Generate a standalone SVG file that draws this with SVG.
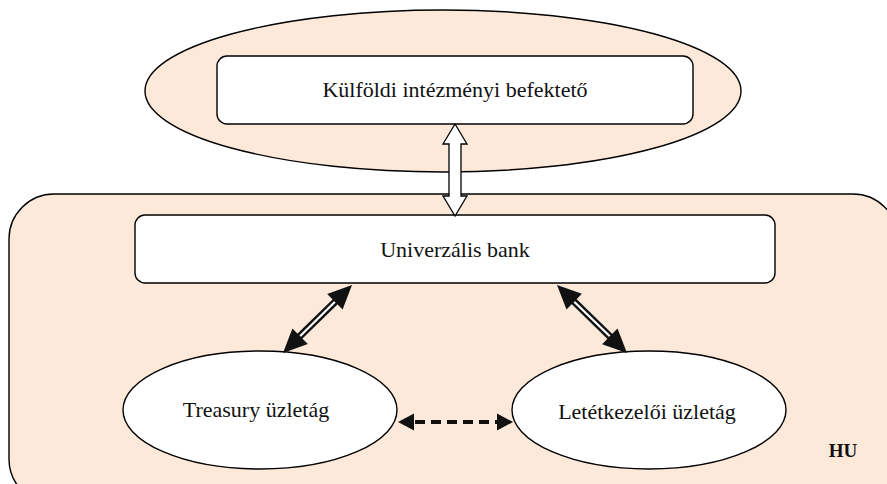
<svg xmlns="http://www.w3.org/2000/svg" width="887" height="484" viewBox="0 0 887 484">
<style>
.region{fill:#FDE9D9;stroke:#000;stroke-width:1.4}
.box{fill:#fff;stroke:#000;stroke-width:1.4}
.lbl{font-family:"Liberation Serif","Times New Roman",serif;font-size:22px;fill:#111;text-anchor:middle}
.hu{font-family:"Liberation Serif","Times New Roman",serif;font-size:19px;font-weight:bold;fill:#111;text-anchor:middle}
.head{fill:#111;stroke:none}
.dbl-out{stroke:#111;stroke-width:7;fill:none}
.dbl-in{stroke:#fff;stroke-width:2.2;fill:none}
.dash{stroke:#111;stroke-width:4;stroke-dasharray:10 6;fill:none}
.hollow{fill:#fff;stroke:#000;stroke-width:1.3;stroke-linejoin:miter}
</style>
<g id="hu-region">
<rect class="region" x="9" y="194" width="889" height="310" rx="45" ry="45"/>
<text class="hu" x="843" y="457">HU</text>
</g>
<g id="foreign-region">
<ellipse class="region" cx="443" cy="91" rx="298" ry="81"/>
</g>
<g id="kulfoldi">
<rect class="box" x="217" y="56" width="476" height="68" rx="10" ry="10"/>
<text class="lbl" x="455" y="97">Külföldi intézményi befektető</text>
</g>
<g id="bank">
<rect class="box" x="135" y="215" width="640" height="68" rx="10" ry="10"/>
<text class="lbl" x="455" y="257">Univerzális bank</text>
</g>
<g id="treasury">
<ellipse class="box" cx="260" cy="410" rx="137" ry="59"/>
<text class="lbl" x="256" y="417">Treasury üzletág</text>
</g>
<g id="letetkezeloi">
<ellipse class="box" cx="649" cy="410" rx="137" ry="59"/>
<text class="lbl" x="647" y="419">Letétkezelői üzletág</text>
</g>
<g id="connectors">
<polygon class="hollow" points="455,124 467,144 461,144 461,196 467,196 455,216 443,196 449,196 449,144 443,144"/>
<line class="dbl-out" x1="298" y1="338" x2="337" y2="300"/>
<line class="dbl-in" x1="300" y1="336.2" x2="335" y2="301.8"/>
<polygon class="head" points="352,285 342.6,309.6 327.2,294"/>
<polygon class="head" points="283,353 307.8,344 292.4,328.4"/>
<line class="dbl-out" x1="572" y1="299.5" x2="612" y2="338.5"/>
<line class="dbl-in" x1="574.2" y1="301.7" x2="609.8" y2="336.3"/>
<polygon class="head" points="557,285 581.9,293.8 566.5,309.6"/>
<polygon class="head" points="627,353 617.5,328.4 602.1,344.2"/>
<line class="dash" x1="415" y1="422" x2="497" y2="422"/>
<polygon class="head" points="398,422 414,413.5 414,430.5"/>
<polygon class="head" points="513,422 497,413.5 497,430.5"/>
</g>
</svg>
